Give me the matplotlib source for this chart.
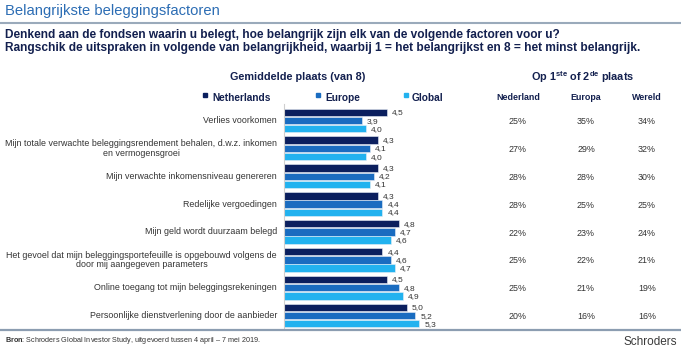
import matplotlib
matplotlib.use("Agg")
import matplotlib.pyplot as plt
import matplotlib.transforms as mtransforms
from matplotlib.lines import Line2D
import numpy as np

plt.rcParams['font.family'] = ['Liberation Sans', 'DejaVu Sans']
plt.rcParams['mathtext.fontset'] = 'custom'
plt.rcParams['mathtext.rm'] = 'Liberation Sans'
plt.rcParams['mathtext.bf'] = 'Liberation Sans:bold'

categories = [
    "Verlies voorkomen",
    "Mijn totale verwachte beleggingsrendement behalen, d.w.z. inkomen\nen vermogensgroei",
    "Mijn verwachte inkomensniveau genereren",
    "Redelijke vergoedingen",
    "Mijn geld wordt duurzaam belegd",
    "Het gevoel dat mijn beleggingsportefeuille is opgebouwd volgens de\ndoor mij aangegeven parameters",
    "Online toegang tot mijn beleggingsrekeningen",
    "Persoonlijke dienstverlening door de aanbieder",
]
series_names = ["Netherlands", "Europe", "Global"]
netherlands = [4.5, 4.3, 4.3, 4.3, 4.8, 4.4, 4.5, 5.0]
europe = [3.9, 4.1, 4.2, 4.4, 4.7, 4.6, 4.8, 5.2]
global_ = [4.0, 4.0, 4.1, 4.4, 4.6, 4.7, 4.9, 5.3]
table_headers = ["Nederland", "Europa", "Wereld"]
pct_nederland = [25, 27, 28, 28, 22, 25, 25, 20]
pct_europa = [35, 29, 28, 25, 23, 22, 21, 16]
pct_wereld = [34, 32, 30, 25, 24, 21, 19, 16]

W, H = 681, 351
fig = plt.figure(figsize=(W / 100, H / 100), dpi=100)

def fx(px):
    return px / W

def fy(py):
    return 1 - py / H

colors = ["#0b1f5e", "#1a6cc0", "#22b2ef"]
navy = "#13204f"
gray_text = "#333333"

# Title
fig.text(fx(5), fy(11.5), "Belangrijkste beleggingsfactoren", fontsize=10.6,
         color="#2c6db4", va="center", ha="left")
fig.add_artist(Line2D([0, 1], [fy(23), fy(23)], color="#9aaabb", lw=1.5,
                      transform=fig.transFigure))
fig.text(fx(5), fy(35), "Denkend aan de fondsen waarin u belegt, hoe belangrijk zijn elk van de volgende factoren voor u?",
         fontsize=8.6, fontweight="bold", color=navy, va="center", ha="left")
fig.text(fx(5), fy(47.5), "Rangschik de uitspraken in volgende van belangrijkheid, waarbij 1 = het belangrijkst en 8 = het minst belangrijk.",
         fontsize=8.6, fontweight="bold", color=navy, va="center", ha="left")

# Bar axes
ax_left, ax_right = 283.5, 440
ax_top, ax_bot = 104, 329
ax = fig.add_axes([fx(ax_left), fy(ax_bot), fx(ax_right - ax_left), (ax_bot - ax_top) / H])
pitch = 27.86
c0 = 120.5
ax.set_ylim((ax_bot - c0) / pitch, (ax_top - c0) / pitch)
ppu = 41.2
ax.set_xlim(2, 2 + (ax_right - ax_left) / ppu)
ax.axis("off")

y = np.arange(len(categories))
boff = 8.25 / pitch
bh = 7.4 / pitch
for k, vals in enumerate([netherlands, europe, global_]):
    yy = y + (k - 1) * boff
    ax.barh(yy, np.array(vals) - 2, left=2, height=bh, color=colors[k],
            edgecolor="#e8eef5", linewidth=0.4)
    for yi, v in zip(yy, vals):
        ax.text(v + 0.12, yi + 0.02, f"{v:.1f}".replace(".", ","), fontsize=6,
                color=gray_text, va="center", ha="left", clip_on=False)

ax.add_line(Line2D([2, 2], [ax.get_ylim()[0], ax.get_ylim()[1]], color="#cfcfcf", lw=0.8, clip_on=False))

# category labels
trans_lab = mtransforms.blended_transform_factory(fig.transFigure, ax.transData)
for yi, cat in zip(y, categories):
    fig.text(fx(277), yi, cat, transform=trans_lab, fontsize=6.4, color=gray_text,
             ha="right", va="center", multialignment="center", linespacing=1.05)

# Chart header and legend
fig.text(fx(298), fy(77), "Gemiddelde plaats (van 8)", fontsize=7.8, fontweight="bold",
         color=navy, ha="center", va="center")
legend_x = [(205, 212), (318, 325), (406, 412)]
for (mx, tx), name, col in zip(legend_x, series_names, colors):
    fig.patches.append(plt.Rectangle((fx(mx - 2.5), fy(96.5)), 4 / W, 4 / H,
                                     transform=fig.transFigure, color=col, figure=fig))
    fig.text(fx(tx), fy(98), name, fontsize=7.3, fontweight="bold", color=navy,
             ha="left", va="center")

# Right table
fig.text(fx(583), fy(77), r"Op 1$^{\mathbf{ste}}$ of 2$^{\mathbf{de}}$ plaats", fontsize=7.8,
         fontweight="bold", color=navy, ha="center", va="center")
col_x = [518, 586, 647]
for cx, hdr in zip(col_x, table_headers):
    fig.text(fx(cx), fy(97), hdr, fontsize=6.4, fontweight="bold", color=navy,
             ha="center", va="center")
for cx, vals in zip(col_x, [pct_nederland, pct_europa, pct_wereld]):
    for yi, v in zip(y, vals):
        fig.text(fx(cx), yi + 0.04, f"{v}%", transform=trans_lab, fontsize=6.4,
                 color=gray_text, ha="center", va="center")

# Bottom line and footer
fig.add_artist(Line2D([0, 1], [fy(329.5), fy(329.5)], color="#8c9db1", lw=1.6,
                      transform=fig.transFigure))
fig.text(fx(5), fy(341), r"$\mathbf{Bron}$: Schroders Global Investor Study, uitgevoerd tussen 4 april – 7 mei 2019.",
         fontsize=5.2, color=gray_text, ha="left", va="center")
fig.text(fx(677), fy(342), "Schroders", fontsize=8.5, color="#3a3a3a", ha="right", va="center")

fig.savefig("out.png", dpi=100)
